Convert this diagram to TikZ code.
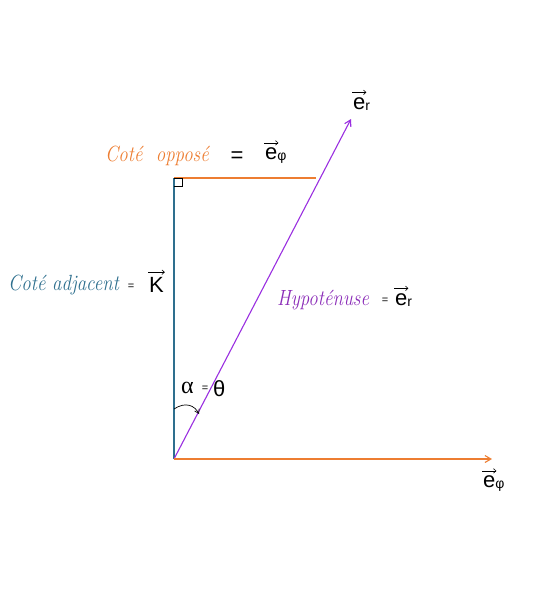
\documentclass[tikz,border=0pt]{standalone}
\usepackage{fontspec}
\usepackage{graphicx}
\setmainfont{Latin Modern Roman}
\newfontfamily\arf{Liberation Sans}
\newfontfamily\tnr{Liberation Serif}
\usetikzlibrary{arrows.meta}
\definecolor{myorange}{HTML}{ED7D31}
\definecolor{myblue}{HTML}{2E6F8E}
\definecolor{mypurple}{HTML}{9A2FE0}
\definecolor{mytxtpurple}{HTML}{8B2DB8}
\newlength{\vecw}
\newcommand{\vecarf}[1]{\setbox0=\hbox{\arf #1}\setlength{\vecw}{\wd0}\leavevmode\vbox{\offinterlineskip\hbox to\wd0{\hss\tikz\draw[black, line width=0.6pt, -{Straight Barb[length=2.5pt,width=4.5pt]}] (0pt,0pt) -- (\vecw+2pt,0pt);\hss}\kern2.5pt\box0}}
\newcommand{\handtxt}[1]{\scalebox{0.86}[1]{#1}}
\tikzset{
  hand/.style={font=\fontsize{22}{22}\selectfont\itshape, inner sep=0pt},
  sym/.style={font=\arf\fontsize{22}{22}\selectfont, inner sep=0pt, text=black},
  eqs/.style={font=\arf\fontsize{11}{11}\selectfont, inner sep=0pt, text=black},
  tipb/.style={-{Straight Barb[length=6pt,width=7pt]}}
}
\begin{document}
\begin{tikzpicture}[x=1pt,y=-1pt]
\useasboundingbox (0,0) rectangle (544,598);
\coordinate (O) at (174,459);
\coordinate (A) at (174,178);
\coordinate (H) at (316,178);
\coordinate (T) at (351,119);
\coordinate (R) at (492,459);
\coordinate (S1) at (182,178);
\coordinate (S2) at (182,186);
\coordinate (S3) at (174,186);
\coordinate (C1) at (174,409);
\coordinate (C2) at (199,414);
% lines
\draw[myblue, line width=1.3pt] (O) -- (A);
\draw[myorange, line width=1.1pt] (A) -- (H);
\draw[black, line width=0.7pt] (A) -- (S1) -- (S2) -- (S3);
\draw[mypurple, line width=1.1pt, tipb] (O) -- (T);
\draw[myorange, line width=1.1pt, tipb] (O) -- (R);
\draw[black, line width=0.7pt, -{Straight Barb[length=4pt,width=5pt]}] (C1) .. controls (186,401) and (195,406) .. (C2);
% labels
\node[hand, text=myorange, anchor=west] (opp) at (105,156) {\handtxt{Coté\ \ opposé}};
\node[sym, anchor=center] (eq1) at (237,157) {=};
\node[sym, anchor=west] (ephi1) at (265,152) {\vecarf{e}\raisebox{-1pt}{\fontsize{14}{14}\selectfont φ}};
\node[hand, text=myblue, anchor=west] (adj) at (8,285) {\handtxt{Coté adjacent}};
\node[eqs, anchor=center] (eq2) at (131,287) {=};
\node[sym, anchor=west] (k) at (149,281) {\vecarf{K}};
\node[hand, text=mytxtpurple, anchor=west] (hyp) at (277,300) {\handtxt{Hypoténuse}};
\node[eqs, anchor=center] (eq3) at (385,301) {=};
\node[sym, anchor=west] (er2) at (395,296) {\vecarf{e}\raisebox{-1pt}{\fontsize{14}{14}\selectfont r}};
\node[font=\tnr\fontsize{24}{24}\selectfont, inner sep=0pt, anchor=west] (alpha) at (181,388) {α};
\node[eqs, anchor=center] (eq4) at (205,389) {=};
\node[sym, anchor=west] (theta) at (213,389) {θ};
\node[sym, anchor=west] (er1) at (353,100) {\vecarf{e}\raisebox{-1pt}{\fontsize{14}{14}\selectfont r}};
\node[sym, anchor=west] (ephi2) at (483,480) {\vecarf{e}\raisebox{-1pt}{\fontsize{14}{14}\selectfont φ}};
\end{tikzpicture}
\end{document}
